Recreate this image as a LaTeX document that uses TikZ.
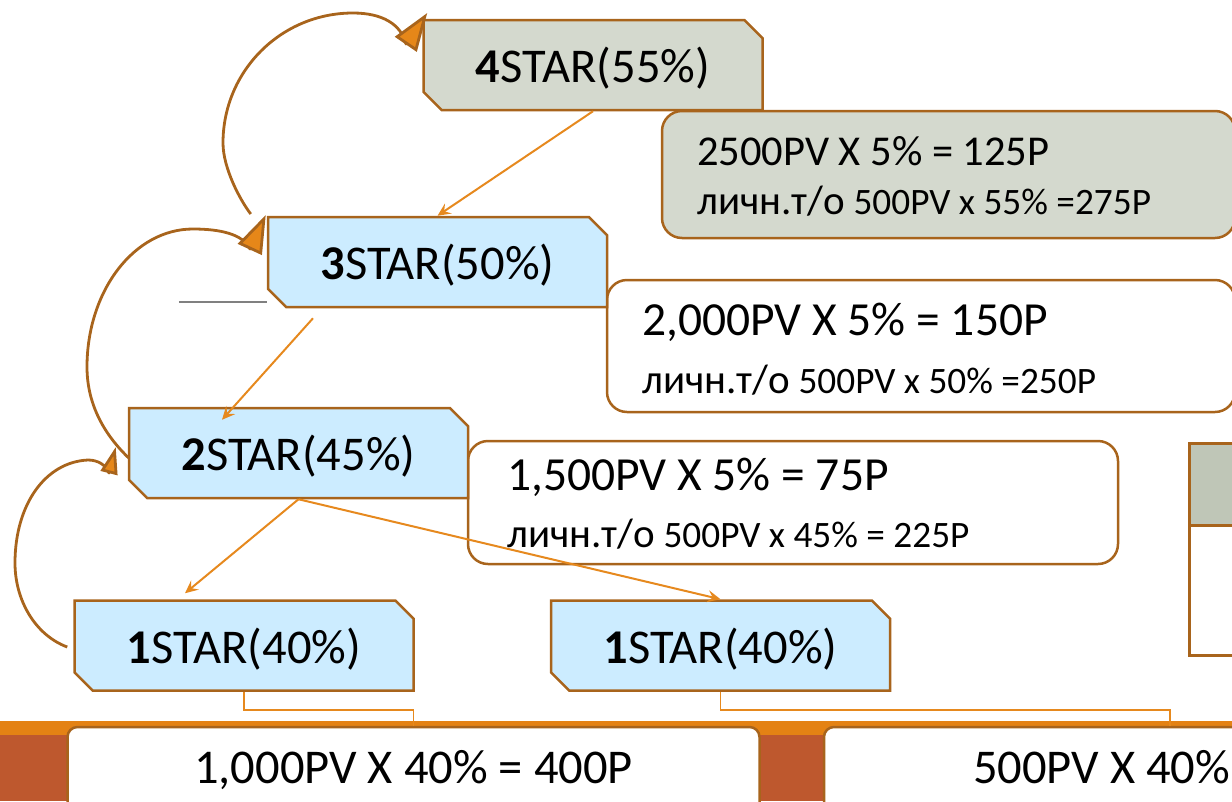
\documentclass[tikz,border=0pt]{standalone}
\usepackage{fontspec}
\setmainfont{Carlito}
\usetikzlibrary{shapes.misc,arrows.meta,calc}

\definecolor{edge}{RGB}{168,100,28}
\definecolor{arrowc}{RGB}{230,137,30}
\definecolor{tipfill}{RGB}{230,135,25}
\definecolor{skyfill}{RGB}{204,236,255}
\definecolor{sagefill}{RGB}{212,217,206}
\definecolor{tablegray}{RGB}{191,198,183}
\definecolor{bandorange}{RGB}{228,130,20}
\definecolor{bandred}{RGB}{190,88,46}

\begin{document}
\begin{tikzpicture}[x=1pt,y=-1pt,
	starbox/.style={chamfered rectangle, chamfered rectangle corners={north east,south west},
		chamfered rectangle xsep=15pt, draw=edge, line width=2.5pt, fill=skyfill, text depth=0pt,
		minimum width=339pt, minimum height=90pt, inner sep=0pt, font=\fontsize{48.5}{52}\selectfont},
	infobox/.style={rectangle, rounded corners=20pt, draw=edge, line width=2.5pt, fill=white, inner sep=0pt},
	sumbox/.style={rectangle, rounded corners=10pt, draw=edge, line width=2.5pt, fill=white, inner sep=0pt,
		minimum width=692pt, minimum height=100pt},
	bigline/.style={anchor=base west, inner sep=0pt, font=\fontsize{47.5}{52}\selectfont},
	smallline/.style={anchor=base west, inner sep=0pt, font=\fontsize{37.3}{40}\selectfont},
	sumline/.style={inner sep=0pt, font=\fontsize{48.5}{52}\selectfont},
	feed/.style={draw=arrowc, line width=2pt, -{Stealth[length=13pt,width=12pt,inset=5pt]}},
	link/.style={draw=arrowc, line width=1.5pt},
	loopline/.style={draw=edge, line width=2.8pt, line join=round}]

	\clip (0,0) rectangle (1232,801);

	% bottom band
	\fill[bandorange] (0,721) rectangle (1232,735);
	\fill[bandred] (0,735) rectangle (1232,801);

	% table at the right
	\draw[draw=edge, line width=3pt, fill=tablegray] (1189,443) rectangle (1300,525);
	\draw[draw=edge, line width=3pt, fill=white] (1189,525) rectangle (1300,655);

	% info boxes
	\node[infobox, fill=sagefill, minimum width=573pt, minimum height=127pt] (g4) at (948.5,174.5) {};
	\node[infobox, minimum width=628pt, minimum height=132pt] (w3) at (921,346) {};
	\node[infobox, minimum width=650pt, minimum height=123pt] (w2) at (793,502.5) {};

	\node[bigline, font=\fontsize{42.5}{46}\selectfont] (g4a) at (697,165) {2500PV X 5\% = 125P};
	\node[smallline] (g4b) at (697,214) {{\fontsize{41}{44}\selectfont личн.т/о} 500PV x 55\% =275P};
	\node[bigline] (w3a) at (642,335) {2,000PV X 5\% = 150P};
	\node[smallline] (w3b) at (642,393) {{\fontsize{41}{44}\selectfont личн.т/о} 500PV x 50\% =250P};
	\node[bigline] (w2a) at (507,490) {1,500PV X 5\% = 75P};
	\node[smallline] (w2b) at (507,547) {{\fontsize{41}{44}\selectfont личн.т/о} 500PV x 45\% = 225P};

	% star levels
	\node[starbox, fill=sagefill] (s4) at (593,65) {\textbf{4}STAR(55\%)};
	\node[starbox] (s3) at (437.5,262) {\textbf{3}STAR(50\%)};
	\node[starbox] (s2) at (298.5,453) {\textbf{2}STAR(45\%)};
	\node[starbox] (s1a) at (244,645.5) {\textbf{1}STAR(40\%)};
	\node[starbox] (s1b) at (720.5,645.5) {\textbf{1}STAR(40\%)};

	\draw[gray, line width=1.5pt] ($(s3.west)+(-88,40)$) -- ($(s3.west)+(0,40)$);

	% payouts
	\node[sumbox] (b1) at (413.5,777) {};
	\node[sumbox] (b2) at (1170,777) {};
	\node[sumline, anchor=base] (b1t) at (413.5,783) {1,000PV X 40\% = 400P};
	\node[sumline, anchor=base west] (b2t) at (973,783) {500PV X 40\%};

	\draw[link] (s1a.south) -- ++(0,18) -| (b1.north);
	\draw[link] (s1b.south) -- ++(0,18) -| (b2.north);

	% downline arrows
	\draw[feed] (s4.south) -- (s3.north);
	\draw[feed] ($(s3.south)+(-124.5,10)$) -- ($(s2.north)+(-76.5,13)$);
	\draw[feed] (s2.south) -- ($(s1a.north)+(-59,-6)$);
	\draw[feed] (s2.south) -- (s1b.north);

	% promotion loops
	\draw[loopline, -{Triangle[length=38pt,width=26pt,fill=tipfill]}] ($(s3.west)+(-16,-48)$)
		.. controls (240,200) and (223,168) .. (223,143)
		.. controls (223,71) and (281,13) .. (353,13)
		.. controls (382,13) and (401,24) .. (406,44) -- ($(s4.west)+(5,-52)$);
	\draw[loopline, -{Triangle[length=38pt,width=26pt,fill=tipfill]}] ($(s2.west)+(1,5)$)
		.. controls (110,440) and (87,410) .. (87,367)
		.. controls (87,291) and (134,229) .. (193,229)
		.. controls (220,229) and (243,234) .. (250,249) -- ($(s3.west)+(-1,-47)$);
	\draw[loopline, -{Triangle[length=27pt,width=17pt,fill=tipfill]}] ($(s1a.west)+(-6,1.5)$)
		.. controls (35,635) and (15,600) .. (15,563)
		.. controls (15,505) and (45,462) .. (88,460)
		.. controls (98,460) and (106,465) .. (109,473) -- ($(s2.west)+(-12,-6)$);
\end{tikzpicture}
\end{document}
